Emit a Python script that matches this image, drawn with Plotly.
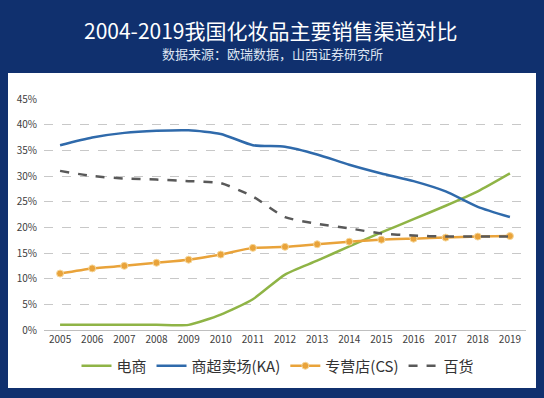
import plotly.graph_objects as go

years = [str(y) for y in range(2005, 2020)]
ecommerce = [1.0, 1.0, 1.0, 1.0, 1.0, 3.0, 6.0, 10.8, 13.5, 16.3, 19.0, 21.6, 24.2, 27.0, 30.5]
ka = [36.0, 37.5, 38.4, 38.8, 38.9, 38.2, 36.0, 35.7, 34.2, 32.2, 30.5, 29.0, 27.0, 24.0, 22.0]
cs = [11.0, 12.0, 12.5, 13.1, 13.7, 14.7, 16.0, 16.2, 16.7, 17.2, 17.6, 17.8, 18.0, 18.2, 18.3]
dept = [31.0, 30.0, 29.5, 29.3, 29.0, 28.6, 26.0, 22.0, 20.7, 19.8, 18.8, 18.4, 18.2, 18.2, 18.2]
ytick_vals = [0, 5, 10, 15, 20, 25, 30, 35, 40, 45]
ytick_text = [f"{v}%" for v in ytick_vals]

title_text = "2004-2019我国化妆品主要销售渠道对比"
subtitle_text = "数据来源：欧瑞数据，山西证券研究所"

FONT = "Noto Sans CJK SC"
BG = "#10306e"
SM = 0.6
fig = go.Figure()
fig.add_trace(go.Scatter(x=years, y=ecommerce, name="电商", mode="lines",
                         line=dict(color="#8fb446", width=2.5, shape="spline", smoothing=SM)))
fig.add_trace(go.Scatter(x=years, y=ka, name="商超卖场(KA)", mode="lines",
                         line=dict(color="#2f6aab", width=2.5, shape="spline", smoothing=SM)))
fig.add_trace(go.Scatter(x=years, y=cs, name="专营店(CS)", mode="lines+markers",
                         line=dict(color="#e9a33a", width=2.5, shape="spline", smoothing=SM),
                         marker=dict(size=7, color="#e9a33a", line=dict(color="#f6d79a", width=1))))
fig.add_trace(go.Scatter(x=years, y=dept, name="百货", mode="lines",
                         line=dict(color="#595959", width=2.5, dash="dash", shape="spline", smoothing=SM)))

L, R, T, B = 44, 526, 99, 330
W, H = R - L, B - T
def px(x): return (x - L) / W
def py(y): return (B - y) / H

fig.add_shape(type="rect", xref="paper", yref="paper",
              x0=px(8), x1=px(536), y0=py(388), y1=py(73),
              fillcolor="white", line=dict(width=0), layer="below")

fig.add_annotation(text=title_text, xref="paper", yref="paper", x=px(271), y=py(30),
                   showarrow=False, xanchor="center", yanchor="middle",
                   font=dict(family=FONT, size=21, color="white"))
fig.add_annotation(text=subtitle_text, xref="paper", yref="paper", x=px(272), y=py(53),
                   showarrow=False, xanchor="center", yanchor="middle",
                   font=dict(family=FONT, size=13, color="#dde5f2"))

fig.update_layout(
    width=544, height=398,
    margin=dict(l=L, r=544 - R, t=T, b=398 - B, pad=0),
    paper_bgcolor=BG, plot_bgcolor="white",
    font=dict(family=FONT, color="#404040"),
    showlegend=True,
    legend=dict(orientation="h", x=px(278), xanchor="center", y=py(366), yanchor="middle",
                font=dict(family=FONT, size=15, color="#333333"), bgcolor="rgba(0,0,0,0)",
                itemwidth=30, tracegroupgap=0),
)
fig.update_xaxes(type="category", range=[-0.5, 14.5], showgrid=False, showline=True,
                 linecolor="#bfbfbf", linewidth=1, ticks="", tickfont=dict(size=10, color="#404040"),
                 fixedrange=True)
fig.update_yaxes(range=[0, 45], tickvals=ytick_vals, ticktext=ytick_text, showgrid=True,
                 gridcolor="#c8c8c8", griddash="dash", gridwidth=1, zeroline=False,
                 showline=False, ticks="", ticklabelstandoff=6,
                 tickfont=dict(size=10, color="#404040"), fixedrange=True)

fig.write_html("out.html", config={"displayModeBar": False},
               post_script="document.body.style.margin='0';document.body.style.background='" + BG + "';document.body.style.overflow='hidden';")
